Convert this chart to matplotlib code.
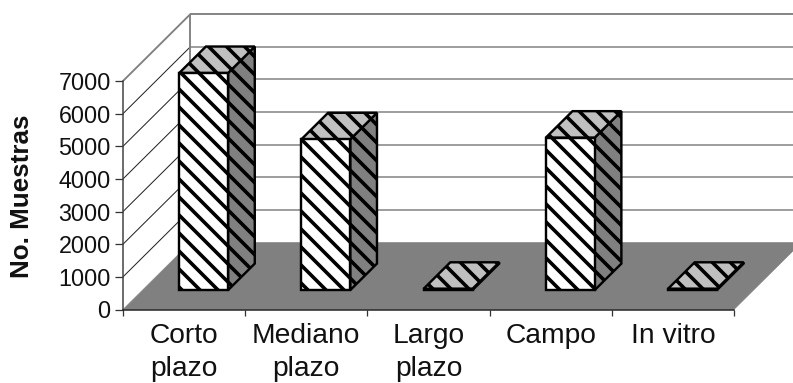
import matplotlib
matplotlib.use("Agg")
import matplotlib.pyplot as plt
from matplotlib.patches import Polygon

categories = ["Corto\nplazo", "Mediano\nplazo", "Largo\nplazo", "Campo", "In vitro"]
muestras = [6650, 4620, 40, 4670, 40]
value_ticks = [0, 1000, 2000, 3000, 4000, 5000, 6000, 7000]

W, H, DPI = 793, 383, 108
plt.rcParams["font.family"] = ["Liberation Sans", "DejaVu Sans"]
plt.rcParams["hatch.linewidth"] = 2.4

fig = plt.figure(figsize=(W / DPI, H / DPI), dpi=DPI)
ax = fig.add_axes([123 / W, (H - 309.5) / H, 611 / W, 228.5 / H])
n = len(categories)
ax.set_xlim(0, n)
ax.set_ylim(0, value_ticks[-1])

# Oblique projection: one unit of depth shifts a point along x and y in data units
DEPTH_X = 67.5 / (611 / n)
DEPTH_Y = 67.0 / (228.5 / value_ticks[-1])


def project(x, v, d=0.0):
    return (x + d * DEPTH_X, v + d * DEPTH_Y)


def face(points, **kw):
    ax.add_patch(Polygon([project(*p) for p in points], closed=True, clip_on=False, **kw))


def wall_line(p, q, **kw):
    a, b = project(*p), project(*q)
    ax.plot([a[0], b[0]], [a[1], b[1]], clip_on=False, solid_capstyle="butt", **kw)


top = value_ticks[-1]
GRAY = "#808080"

# Floor
face([(0, 0, 0), (n, 0, 0), (n, 0, 1), (0, 0, 1)], facecolor=GRAY, edgecolor=GRAY, lw=0.4, zorder=1)

# Back wall gridlines and their continuation across the side wall
for v in value_ticks[1:]:
    major = v == top
    wall_line((0, v, 1), (n, v, 1), color=GRAY, lw=1.25 if major else 1.0, zorder=1.2)
    wall_line((0, v, 0), (0, v, 1), color=GRAY if major else "#222222",
              lw=1.25 if major else 0.67, zorder=1.2)
wall_line((0, 0, 1), (0, top, 1), color=GRAY, lw=1.25, zorder=1.2)

# Hatched boxes standing on the floor
D0, D1 = 0.29, 0.685
BAR_W = 0.4
hatched = dict(hatch="\\\\", edgecolor="black", lw=1.6, joinstyle="miter")
for i, v in enumerate(muestras):
    x0, x1 = i + 0.5 - BAR_W / 2, i + 0.5 + BAR_W / 2
    face([(x1, 0, D0), (x1, 0, D1), (x1, v, D1), (x1, v, D0)],
         facecolor=GRAY, zorder=2, **hatched)
    face([(x0, v, D0), (x1, v, D0), (x1, v, D1), (x0, v, D1)],
         facecolor="#c0c0c0", zorder=2.1, **hatched)
    face([(x0, 0, D0), (x1, 0, D0), (x1, v, D0), (x0, v, D0)],
         facecolor="white", zorder=2.2, **hatched)

# Axes, ticks and labels
for side in ("top", "right"):
    ax.spines[side].set_visible(False)
ax.patch.set_visible(False)
ax.spines["left"].set_color("#404040")
ax.spines["left"].set_linewidth(1.0)
ax.spines["bottom"].set_color("#202020")
ax.spines["bottom"].set_linewidth(1.0)
ax.spines["left"].set_zorder(3)
ax.spines["bottom"].set_zorder(3)

ax.set_yticks(value_ticks)
ax.set_xticks(range(n + 1))
ax.set_xticklabels([])
ax.set_xticks([i + 0.5 for i in range(n)], minor=True)
ax.set_xticklabels(categories, minor=True, fontsize=18.8, linespacing=1.36, color="#111111")
ax.tick_params(axis="x", which="major", length=4.2, width=0.85, color="#333333")
ax.tick_params(axis="x", which="minor", length=0, pad=9)
ax.tick_params(axis="y", length=5.3, width=0.85, color="#333333", pad=2.9, labelsize=15.6, labelcolor="#111111")

fig.text(22 / W, 1 - 196 / H, "No. Muestras", rotation=90, ha="center", va="center",
         fontsize=17.3, fontweight="bold", color="#111111")

fig.savefig("out.png", dpi=DPI)
